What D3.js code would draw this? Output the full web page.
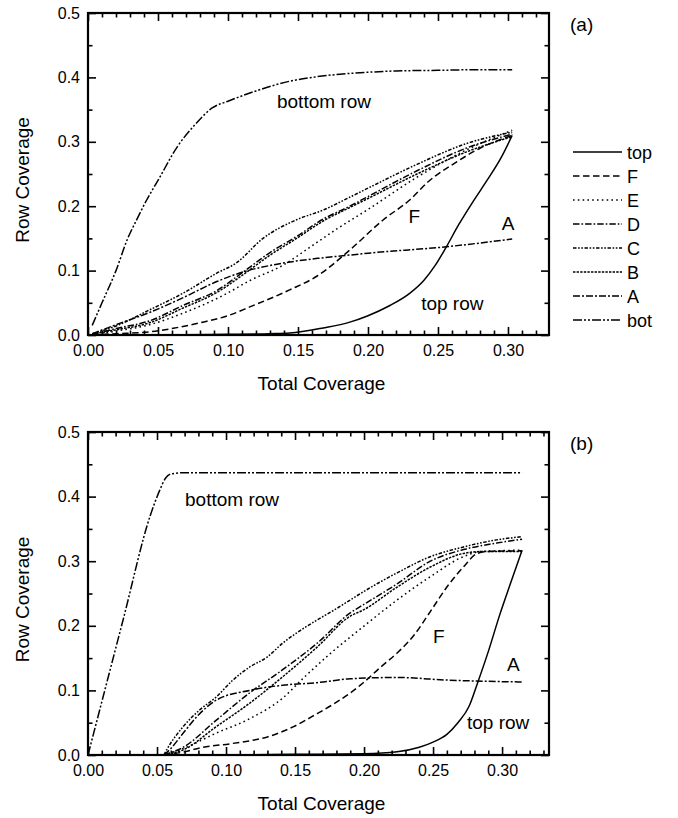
<!DOCTYPE html>
<html><head><meta charset="utf-8">
<script src="https://cdn.jsdelivr.net/npm/d3@7"></script>
<style>
body{margin:0;background:#fff;}
svg{font-family:"Liberation Sans",Arial,Helvetica,sans-serif;}
</style></head>
<body><svg id="c" width="678" height="818"></svg>
<script>
// ---------- data ----------
const seriesNames = ["top","F","E","D","C","B","A","bot"];
const xTicks = [0,0.05,0.10,0.15,0.20,0.25,0.30];
const yTicks = [0,0.1,0.2,0.3,0.4,0.5];

// panel (a)
const topA = [[0.003,0],[0.05,0],[0.1,0.001],[0.13,0.002],[0.144,0.003],[0.168,0.011],[0.187,0.02],[0.2,0.03],[0.215,0.045],[0.23,0.065],[0.24,0.085],[0.248,0.108],[0.256,0.137],[0.265,0.172],[0.275,0.207],[0.285,0.24],[0.295,0.275],[0.303,0.31]];
const FA = [[0.003,0],[0.02,0.002],[0.044,0.005],[0.08,0.019],[0.1,0.03],[0.116,0.044],[0.144,0.07],[0.164,0.092],[0.187,0.132],[0.211,0.179],[0.23,0.21],[0.243,0.238],[0.262,0.267],[0.28,0.29],[0.303,0.31]];
const EA = [[0.003,0],[0.02,0.006],[0.044,0.016],[0.068,0.034],[0.097,0.062],[0.116,0.085],[0.139,0.108],[0.159,0.137],[0.178,0.165],[0.2,0.195],[0.235,0.245],[0.27,0.287],[0.303,0.318]];
const DA = [[0.003,0.001],[0.02,0.01],[0.044,0.022],[0.068,0.046],[0.092,0.069],[0.111,0.098],[0.13,0.128],[0.149,0.153],[0.168,0.18],[0.187,0.2],[0.2,0.215],[0.235,0.255],[0.27,0.29],[0.303,0.312]];
const CA = [[0.003,0.002],[0.02,0.014],[0.044,0.039],[0.068,0.065],[0.092,0.096],[0.106,0.112],[0.125,0.15],[0.149,0.179],[0.168,0.194],[0.187,0.214],[0.2,0.228],[0.235,0.265],[0.27,0.297],[0.303,0.315]];
const BA = [[0.003,0.001],[0.02,0.008],[0.044,0.019],[0.068,0.042],[0.092,0.066],[0.111,0.094],[0.13,0.124],[0.149,0.15],[0.168,0.177],[0.187,0.198],[0.2,0.212],[0.235,0.25],[0.27,0.284],[0.303,0.308]];
const AA = [[0.003,0.002],[0.02,0.016],[0.044,0.035],[0.068,0.058],[0.092,0.083],[0.111,0.098],[0.135,0.11],[0.164,0.119],[0.182,0.123],[0.2,0.127],[0.256,0.137],[0.303,0.149]];
const botA = [[0.003,0.015],[0.01,0.05],[0.02,0.1],[0.028,0.148],[0.035,0.18],[0.042,0.21],[0.05,0.24],[0.064,0.293],[0.077,0.328],[0.089,0.353],[0.1,0.363],[0.12,0.379],[0.144,0.394],[0.16,0.4],[0.18,0.405],[0.2,0.408],[0.22,0.41],[0.25,0.411],[0.28,0.412],[0.303,0.412]];

// panel (b)
const topB = [[0.055,0],[0.1,0],[0.15,0.001],[0.2,0.002],[0.224,0.005],[0.24,0.012],[0.25,0.02],[0.26,0.032],[0.268,0.05],[0.276,0.075],[0.282,0.11],[0.29,0.16],[0.298,0.215],[0.306,0.265],[0.3145,0.317]];
const FB = [[0.055,0],[0.07,0.005],[0.081,0.011],[0.105,0.018],[0.13,0.028],[0.149,0.044],[0.166,0.064],[0.178,0.079],[0.19,0.096],[0.199,0.111],[0.212,0.136],[0.224,0.158],[0.236,0.185],[0.248,0.222],[0.26,0.26],[0.272,0.291],[0.282,0.312],[0.29,0.315],[0.3145,0.316]];
const EB = [[0.055,0],[0.069,0.01],[0.093,0.034],[0.117,0.056],[0.141,0.088],[0.156,0.119],[0.175,0.156],[0.199,0.198],[0.224,0.24],[0.248,0.276],[0.272,0.307],[0.285,0.315],[0.3145,0.317]];
const DB = [[0.055,0],[0.069,0.012],[0.093,0.054],[0.117,0.096],[0.141,0.132],[0.166,0.173],[0.19,0.22],[0.199,0.232],[0.224,0.265],[0.248,0.3],[0.272,0.318],[0.296,0.328],[0.3145,0.334]];
const CB = [[0.055,0],[0.057,0.008],[0.069,0.044],[0.081,0.07],[0.093,0.09],[0.105,0.116],[0.117,0.136],[0.13,0.152],[0.141,0.173],[0.154,0.193],[0.166,0.209],[0.178,0.224],[0.19,0.24],[0.199,0.252],[0.224,0.282],[0.248,0.307],[0.272,0.322],[0.296,0.333],[0.3145,0.338]];
const BB = [[0.055,0],[0.069,0.008],[0.093,0.044],[0.117,0.08],[0.141,0.121],[0.166,0.167],[0.19,0.215],[0.199,0.224],[0.224,0.26],[0.248,0.291],[0.272,0.312],[0.286,0.315],[0.3145,0.315]];
const AB = [[0.055,0],[0.06,0.01],[0.069,0.034],[0.08,0.062],[0.093,0.085],[0.117,0.1],[0.141,0.108],[0.166,0.112],[0.19,0.118],[0.224,0.12],[0.26,0.116],[0.3145,0.113]];
const botB = [[0,0],[0.0254,0.209],[0.045,0.37],[0.052,0.41],[0.056,0.428],[0.06,0.435],[0.07,0.437],[0.15,0.437],[0.25,0.437],[0.3145,0.437]];

// ---------- styles ----------
const dash = {top:null,F:"6.5,3.5",E:"1.6,3.2",D:"6.5,2,1.6,2",C:"3.5,1.6,1.6,1.6,1.6,1.6",B:"2.4,1.2",A:"7,2,2,2",bot:"9,2,2,2,2,2"};

const svg = d3.select("#c");
const FONT_TICK = 16, FONT_ANN = 19;

function panel(cfg){
  const {top,bottom,left,right,xmax,data,label,ann} = cfg;
  const x = d3.scaleLinear().domain([0,xmax]).range([left,right]);
  const y = d3.scaleLinear().domain([0,0.5]).range([bottom,top]);
  const g = svg.append("g");
  const xMinor = d3.range(0,xmax+1e-9,0.01).filter(v=>Math.abs(v*20-Math.round(v*20))>1e-6);
  const yMinor = [0.05,0.15,0.25,0.35,0.45];
  const styleAx = (sel)=>{sel.select(".domain").remove();sel.selectAll("line").attr("stroke","#000").attr("stroke-width",1.6);
    sel.selectAll("text").attr("font-size",FONT_TICK).attr("fill","#000").attr("font-family","Liberation Sans, Arial, sans-serif");};
  g.append("g").attr("transform",`translate(0,${bottom})`)
    .call(d3.axisBottom(x).tickValues(xTicks).tickSize(-8).tickPadding(10).tickFormat(d3.format(".2f"))).call(styleAx);
  g.append("g").attr("transform",`translate(0,${bottom})`)
    .call(d3.axisBottom(x).tickValues(xMinor).tickSize(-4.5).tickFormat("")).call(styleAx);
  g.append("g").attr("transform",`translate(0,${top})`)
    .call(d3.axisTop(x).tickValues(xTicks).tickSize(-8).tickFormat("")).call(styleAx);
  g.append("g").attr("transform",`translate(0,${top})`)
    .call(d3.axisTop(x).tickValues(xMinor).tickSize(-4.5).tickFormat("")).call(styleAx);
  g.append("g").attr("transform",`translate(${left},0)`)
    .call(d3.axisLeft(y).tickValues(yTicks).tickSize(-8).tickPadding(8).tickFormat(d3.format(".1f"))).call(styleAx);
  g.append("g").attr("transform",`translate(${left},0)`)
    .call(d3.axisLeft(y).tickValues(yMinor).tickSize(-4.5).tickFormat("")).call(styleAx);
  g.append("g").attr("transform",`translate(${right},0)`)
    .call(d3.axisRight(y).tickValues(yTicks).tickSize(-8).tickFormat("")).call(styleAx);
  g.append("g").attr("transform",`translate(${right},0)`)
    .call(d3.axisRight(y).tickValues(yMinor).tickSize(-4.5).tickFormat("")).call(styleAx);
  g.append("rect").attr("x",left).attr("y",top).attr("width",right-left).attr("height",bottom-top)
    .attr("fill","none").attr("stroke","#000").attr("stroke-width",2.2);

  const line = d3.line().x(d=>x(d[0])).y(d=>y(d[1])).curve(d3.curveMonotoneX);
  seriesNames.forEach(n=>{
    g.append("path").datum(data[n]).attr("d",line).attr("fill","none")
      .attr("stroke","#000").attr("stroke-width",1.5)
      .attr("stroke-dasharray",dash[n]);
  });
  g.append("text").attr("x",(left+right)/2+3).attr("y",bottom+55).attr("text-anchor","middle")
    .attr("font-size",19).text("Total Coverage");
  g.append("text").attr("transform",`translate(29,${(top+bottom)/2+6}) rotate(-90)`).attr("text-anchor","middle")
    .attr("font-size",19).text("Row Coverage");
  g.append("text").attr("x",570).attr("y",top+18).attr("font-size",19).text(label);
  ann.forEach(a=>g.append("text").attr("x",x(a.x)).attr("y",y(a.y)).attr("font-size",FONT_ANN).text(a.t));
  return {x,y};
}

panel({top:13,bottom:335,left:88,right:549,xmax:0.3293,label:"(a)",
  data:{top:topA,F:FA,E:EA,D:DA,C:CA,B:BA,A:AA,bot:botA},
  ann:[{t:"bottom row",x:0.135,y:0.352},{t:"F",x:0.229,y:0.174},{t:"A",x:0.2956,y:0.163},{t:"top row",x:0.238,y:0.039}]});

panel({top:432,bottom:755,left:88,right:549,xmax:0.334,label:"(b)",
  data:{top:topB,F:FB,E:EB,D:DB,C:CB,B:BB,A:AB,bot:botB},
  ann:[{t:"bottom row",x:0.0703,y:0.385},{t:"F",x:0.25,y:0.173},{t:"A",x:0.3036,y:0.130},{t:"top row",x:0.2746,y:0.04}]});

const legY = d3.scalePoint().domain(seriesNames).range([152,320]);
const leg = svg.append("g");
seriesNames.forEach(n=>{
  leg.append("line").attr("x1",573).attr("x2",622).attr("y1",legY(n)).attr("y2",legY(n))
    .attr("stroke","#000").attr("stroke-width",1.5).attr("stroke-dasharray",dash[n]);
  leg.append("text").attr("x",627).attr("y",legY(n)+6.5).attr("font-size",18).text(n);
});
</script></body></html>
